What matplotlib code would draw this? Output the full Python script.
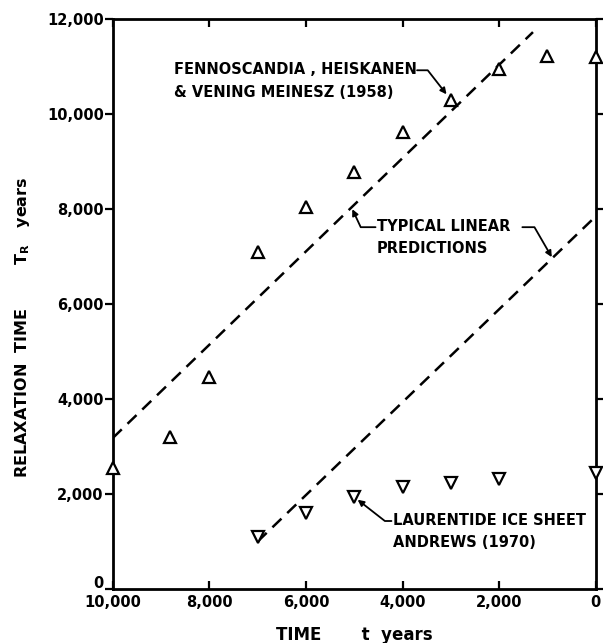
import numpy as np
import matplotlib.pyplot as plt
import matplotlib.transforms as mtransforms

# Fennoscandia (Heiskanen & Vening Meinesz 1958), up triangles
fenno_t = [10000, 8820, 8000, 7000, 6000, 5000, 4000, 3000, 2000, 1000, 0]
fenno_tr = [2550, 3200, 4460, 7100, 8040, 8780, 9620, 10300, 10950, 11220, 11200]

# Laurentide ice sheet (Andrews 1970), down triangles
laur_t = [7000, 6000, 5000, 4000, 3000, 2000, 0]
laur_tr = [1100, 1600, 1940, 2150, 2230, 2320, 2440]

# typical linear predictions (end points)
lin1_t = [10000, 1300]
lin1_tr = [3180, 11730]
lin2_t = [7000, 0]
lin2_tr = [1000, 7850]

plt.rcParams['font.family'] = 'DejaVu Sans'
plt.rcParams['font.weight'] = 'bold'
plt.rcParams['axes.labelweight'] = 'bold'

fig = plt.figure(figsize=(6.03, 6.43), dpi=100)
ax = fig.add_axes([0.187, 0.084, 0.801, 0.886])

ax.plot(fenno_t, fenno_tr, linestyle='none', marker='^', markersize=9,
        markerfacecolor='white', markeredgecolor='black', markeredgewidth=1.6, clip_on=False, zorder=3)
ax.plot(laur_t, laur_tr, linestyle='none', marker='v', markersize=9,
        markerfacecolor='white', markeredgecolor='black', markeredgewidth=1.6, clip_on=False, zorder=3)
ax.plot(lin1_t, lin1_tr, color='black', linestyle=(0, (5, 3.2)), linewidth=1.8)
ax.plot(lin2_t, lin2_tr, color='black', linestyle=(0, (5, 3.2)), linewidth=1.8)

ax.set_xlim(10000, 0)
ax.set_ylim(0, 12000)
ax.set_xticks([10000, 8000, 6000, 4000, 2000, 0])
ax.set_xticklabels(['10,000', '8,000', '6,000', '4,000', '2,000', '0'])
ax.set_yticks([0, 2000, 4000, 6000, 8000, 10000, 12000])
ax.set_yticklabels(['0', '2,000', '4,000', '6,000', '8,000', '10,000', '12,000'])
ax.tick_params(axis='both', labelsize=10.5, width=1.6, length=6, color='black')
ax.tick_params(axis='y', direction='out', right=True, pad=0.5)
ax.tick_params(axis='x', direction='in', top=True, pad=4)
for s in ax.spines.values():
    s.set_linewidth(2)

# the y "0" sits a little above the corner, clear of "10,000"
lab0 = ax.get_yticklabels()[0]
lab0.set_transform(lab0.get_transform() + mtransforms.ScaledTranslation(0, 5 / 72, fig.dpi_scale_trans))

ax.set_ylabel('RELAXATION  TIME        T$_\\mathregular{R}$   years', fontsize=11.5, labelpad=10)
ax.yaxis.set_label_coords(-0.168, 0.46)
ax.set_xlabel('TIME       t  years', fontsize=12, labelpad=12)

arrow = dict(arrowstyle='-|>', color='black', lw=1.3, shrinkA=0, shrinkB=0, mutation_scale=9)

# Fennoscandia label and leader
ax.text(8740, 11100, 'FENNOSCANDIA , HEISKANEN\n& VENING MEINESZ (1958)', fontsize=10.5,
        ha='left', va='top', linespacing=1.65)
ax.annotate('', xy=(3090, 10420), xytext=(3700, 10926),
            arrowprops=dict(arrow, connectionstyle='angle,angleA=0,angleB=-52,rad=0'))

# typical linear predictions label and leaders
ax.text(4530, 7800, 'TYPICAL LINEAR\nPREDICTIONS', fontsize=10.5,
        ha='left', va='top', linespacing=1.65)
ax.annotate('', xy=(5040, 8000), xytext=(4560, 7621),
            arrowprops=dict(arrow, connectionstyle='angle,angleA=180,angleB=115,rad=0'))
ax.annotate('', xy=(911, 6990), xytext=(1520, 7621),
            arrowprops=dict(arrow, connectionstyle='angle,angleA=0,angleB=-60,rad=0'))

# Laurentide label and leader
ax.text(4200, 1600, 'LAURENTIDE ICE SHEET\nANDREWS (1970)', fontsize=10.5,
        ha='left', va='top', linespacing=1.55)
ax.annotate('', xy=(4930, 1880), xytext=(4230, 1432),
            arrowprops=dict(arrow, connectionstyle='angle,angleA=180,angleB=142,rad=0'))

plt.savefig('out.png', dpi=100)
